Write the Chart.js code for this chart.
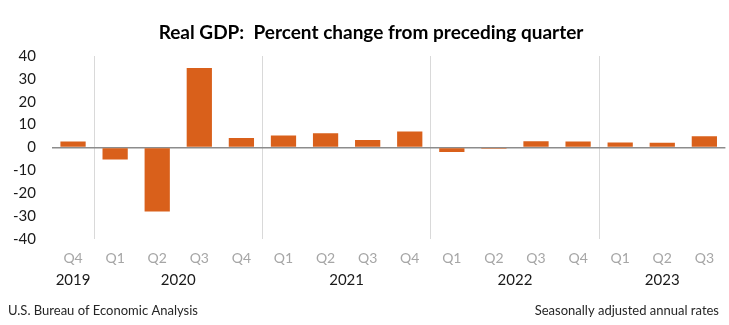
<!DOCTYPE html>
<html>
<head>
<meta charset="utf-8">
<script src="https://cdn.jsdelivr.net/npm/chart.js@4"></script>
<style>
  html, body { margin: 0; padding: 0; background: #fff; }
  #wrap { width: 729px; height: 325px; position: relative; }
</style>
</head>
<body>
<div id="wrap"><canvas id="gdpChart"></canvas></div>
<script>
// Quarterly real GDP growth, seasonally adjusted annual rates (%)
const quarterLabels = ['Q4', 'Q1', 'Q2', 'Q3', 'Q4', 'Q1', 'Q2', 'Q3', 'Q4', 'Q1', 'Q2', 'Q3', 'Q4', 'Q1', 'Q2', 'Q3'];
const yearLabels    = ['2019', '2020', '2021', '2022', '2023'];
const yearSpans     = [1, 4, 4, 4, 3];
const gdpChange     = [2.6, -5.3, -28.0, 34.8, 4.2, 5.2, 6.2, 3.3, 7.0, -2.0, -0.6, 2.7, 2.6, 2.2, 2.1, 4.9];
const yTickValues   = [40, 30, 20, 10, 0, -10, -20, -30, -40];

const titleText  = 'Real GDP:  Percent change from preceding quarter';
const sourceText = 'U.S. Bureau of Economic Analysis';
const noteText   = 'Seasonally adjusted annual rates';

const FONT = 'Lato, "Open Sans", sans-serif';

// Title, year row under the quarter ticks, and the two footer notes
const annotations = {
  id: 'annotations',
  afterDraw(chart) {
    const { ctx } = chart;
    const x = chart.scales.x;
    ctx.save();
    ctx.textBaseline = 'middle';

    ctx.fillStyle = '#000';
    ctx.font = 'bold 19px ' + FONT;
    ctx.textAlign = 'center';
    ctx.fillText(titleText, 371, 33);

    ctx.font = '15px ' + FONT;
    ctx.fillStyle = '#1a1a1a';
    let start = 0;
    yearLabels.forEach((year, i) => {
      const end = start + yearSpans[i] - 1;
      const cx = (x.getPixelForValue(start) + x.getPixelForValue(end)) / 2;
      ctx.fillText(year, cx, 280);
      start = end + 1;
    });

    ctx.font = '13px ' + FONT;
    ctx.fillStyle = '#262626';
    ctx.textAlign = 'left';
    ctx.fillText(sourceText, 8, 311);
    ctx.textAlign = 'right';
    ctx.fillText(noteText, 719, 311);
    ctx.restore();
  },
};

new Chart(document.getElementById('gdpChart').getContext('2d'), {
  type: 'bar',
  data: {
    labels: quarterLabels,
    datasets: [{
      data: gdpChange,
      backgroundColor: '#d9601b',
      borderWidth: 0,
      categoryPercentage: 1,
      barPercentage: 0.6,
    }],
  },
  options: {
    responsive: true,
    maintainAspectRatio: false,
    animation: false,
    layout: { padding: { top: 56, left: 0, right: 3.6, bottom: 56 } },
    plugins: {
      legend: { display: false },
      tooltip: { enabled: false },
    },
    scales: {
      x: {
        offset: true,
        border: { display: false },
        grid: {
          offset: true,
          drawTicks: false,
          lineWidth: 1,
          // light separators between calendar years
          color: ctx => (quarterLabels[ctx.index] === 'Q1' ? '#d9d9d9' : 'transparent'),
        },
        ticks: {
          color: '#a6a6a6',
          font: { family: FONT, size: 14 },
          padding: 11,
          maxRotation: 0,
          autoSkip: false,
        },
        afterFit(scale) { scale.height = 30; },
      },
      y: {
        min: -40,
        max: 40,
        border: { display: false },
        grid: {
          drawTicks: false,
          color: ctx => (ctx.tick && ctx.tick.value === 0 ? '#8c8c8c' : 'transparent'),
          lineWidth: ctx => (ctx.tick && ctx.tick.value === 0 ? 1.5 : 0),
        },
        afterBuildTicks(scale) { scale.ticks = yTickValues.map(v => ({ value: v })); },
        ticks: {
          color: '#1a1a1a',
          font: { family: FONT, size: 15 },
          padding: 16,
        },
        afterFit(scale) { scale.width = 52; },
      },
    },
  },
  plugins: [annotations],
});
</script>
</body>
</html>
